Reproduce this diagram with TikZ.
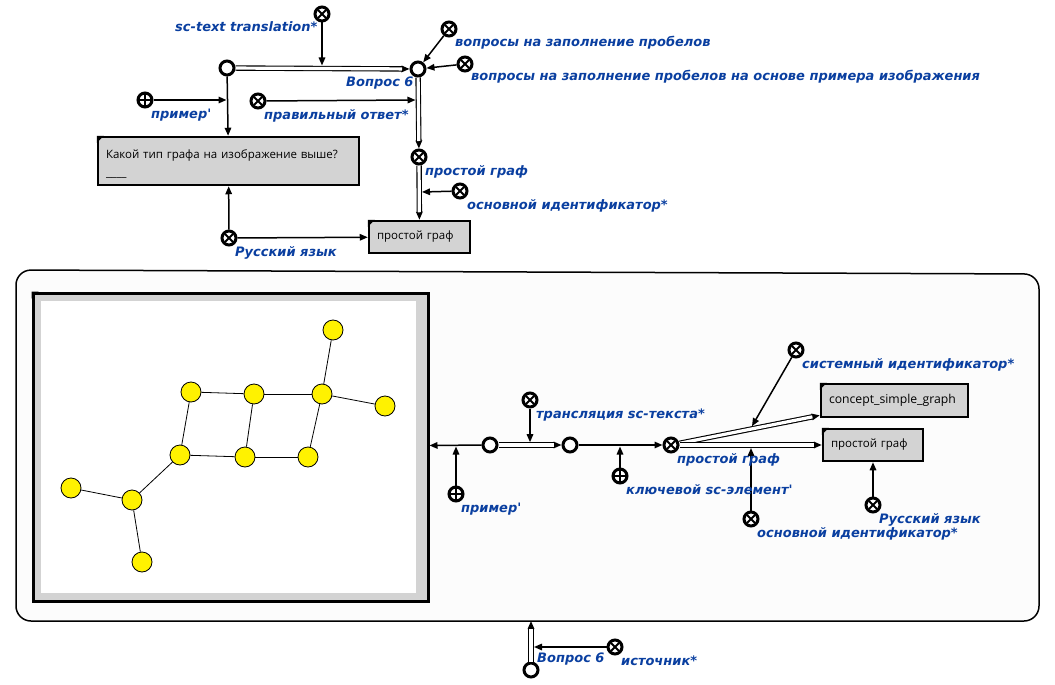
\documentclass[tikz,border=0pt]{standalone}
\usepackage{fontspec}
\setmainfont{DejaVu Sans}
\newfontfamily\lblfont{DejaVu Sans}
\newfontfamily\boxfont{Open Sans}
\usetikzlibrary{arrows.meta}
\definecolor{lblue}{HTML}{0A3FA0}
\definecolor{boxgray}{HTML}{D3D3D3}
\definecolor{framebg}{HTML}{FCFCFC}
\newcommand\dblarc[2]{\draw[arcline] (#1) -- (#2); \draw[dblline] (#1) -- (#2);}
\newcommand\boxcorner[1]{\fill (#1.north west) -- ++(7,0) -- ++(-7,7) -- cycle;}
\begin{document}
\begin{tikzpicture}[x=1pt,y=-1pt,
 opennode/.style={circle,draw,line width=3pt,fill=white,minimum size=14pt,inner sep=0pt},
 crossnode/.style={opennode, path picture={\draw[line width=1.8pt,shift={(path picture bounding box.center)}] (-4,-4)--(4,4) (-4,4)--(4,-4);}},
 plusnode/.style={opennode, path picture={\draw[line width=1.8pt,shift={(path picture bounding box.center)}] (-6,0)--(6,0) (0,-6)--(0,6);}},
 arcline/.style={line width=1.5pt,-{Triangle[length=8pt,width=6.5pt]}},
 dblline/.style={line width=1.1pt,double=white,double distance=3.2pt,shorten >=7.5pt},
 lbl/.style={font=\lblfont\fontsize{13}{15}\selectfont\bfseries\itshape, text=lblue, anchor=base west, inner sep=0pt},
 scbox/.style={draw,line width=2.5pt,fill=boxgray,inner xsep=8pt,font=\boxfont\fontsize{11.5}{18}\selectfont,minimum height=32pt,align=left},
 gv/.style={circle,draw,fill=yellow,line width=0.8pt,minimum size=20pt,inner sep=0pt},
 ge/.style={line width=0.8pt}]
\useasboundingbox (0,0) rectangle (1055,685);

% ---------- big frame ----------
\draw[line width=1.5pt, fill=framebg, rounded corners=15pt] (16,270) -- (1039,274) -- (1039,621) -- (16,621) -- cycle;
\coordinate (fr) at (531,621);

% ---------- top part ----------
\node[opennode] (qA) at (227,68) {};
\node[crossnode] (nSct) at (322,14) {};
\node[opennode] (q6) at (418,69) {};
\node[crossnode] (nVzp) at (449,29) {};
\node[crossnode] (nVzpi) at (465,64) {};
\node[plusnode] (nPr1) at (145,100) {};
\node[crossnode] (nPo) at (258,101) {};
\node[crossnode] (nPg) at (419,157) {};
\node[crossnode] (nOi1) at (460,191) {};
\node[crossnode] (nRu1) at (229,238) {};
\node[scbox, minimum width=261pt, minimum height=48pt, text width=245pt] (boxQ) at (228.5,161)
  {\rule{0pt}{14pt}Какой тип графа на изображение выше?\\\_\_\_\_};
\node[scbox, minimum width=101pt, text width=85pt] (boxPg1) at (419.5,237) {простой граф};
\boxcorner{boxQ}
\boxcorner{boxPg1}

\coordinate (c1) at (322,65.5);
\coordinate (c2) at (226.5,100);
\coordinate (c3) at (415.5,100);
\coordinate (c4) at (422,192);

\dblarc{qA}{q6}
\draw[arcline] (nSct) -- (c1);
\draw[arcline] (nVzp) -- (q6);
\draw[arcline] (nVzpi) -- (q6);
\draw[arcline] (qA) -- (boxQ);
\draw[arcline] (nPr1) -- (c2);
\dblarc{q6}{nPg}
\draw[arcline] (nPo) -- (c3);
\dblarc{nPg}{boxPg1}
\draw[arcline] (nOi1) -- (c4);
\draw[arcline] (nRu1) -- (boxQ);
\draw[arcline] (nRu1) -- (boxPg1);

\node[lbl] (lSct) at (175,32) {sc-text translation*};
\node[lbl] (lq6) at (346,87) {Вопрос 6};
\node[lbl] (lVzp) at (455,47) {вопросы на заполнение пробелов};
\node[lbl] (lVzpi) at (471,81) {вопросы на заполнение пробелов на основе примера изображения};
\node[lbl] (lPr1) at (151,118) {пример'};
\node[lbl] (lPo) at (264,119) {правильный ответ*};
\node[lbl] (lPg) at (425,175) {простой граф};
\node[lbl] (lOi1) at (467,209) {основной идентификатор*};
\node[lbl] (lRu1) at (235,256) {Русский язык};

% ---------- image ----------
\node[draw,line width=3pt,fill=boxgray,minimum width=395pt,minimum height=308pt,inner sep=0pt] (img) at (230.5,447) {};
\fill[white] (41,301) rectangle (416,593);
\boxcorner{img}
\node[gv] (g1) at (333,330) {};
\node[gv] (g2) at (191,392) {};
\node[gv] (g3) at (254,394) {};
\node[gv] (g4) at (322,394) {};
\node[gv] (g5) at (385,406) {};
\node[gv] (g6) at (180,455) {};
\node[gv] (g7) at (245,457) {};
\node[gv] (g8) at (308,457) {};
\node[gv] (g9) at (71,488) {};
\node[gv] (g10) at (132,500) {};
\node[gv] (g11) at (142,562) {};
\foreach \a/\b in {g1/g4,g2/g3,g3/g4,g4/g5,g2/g6,g3/g7,g4/g8,g6/g7,g7/g8,g6/g10,g9/g10,g10/g11}
  \draw[ge] (\a) -- (\b);

% ---------- bottom part ----------
\node[opennode] (qB) at (490,445) {};
\node[opennode] (qC) at (570,445) {};
\node[crossnode] (nPg2) at (671,445) {};
\node[plusnode] (nPr2) at (456,494) {};
\node[crossnode] (nTr) at (530,400) {};
\node[plusnode] (nKl) at (620,476) {};
\node[crossnode] (nSi) at (796,350) {};
\node[crossnode] (nOi2) at (751,519) {};
\node[scbox, minimum width=147pt, minimum height=33pt, text width=131pt, font=\boxfont\fontsize{12.2}{15}\selectfont] (boxCsg) at (894.5,400.5) {concept\_simple\_graph};
\node[scbox, minimum width=100pt, text width=84pt] (boxPg2) at (873,445) {простой граф};
\boxcorner{boxCsg}
\boxcorner{boxPg2}
\node[crossnode] (nRu2) at (873,505) {};
\node[opennode] (q6b) at (531,670) {};
\node[crossnode] (nIst) at (615,647) {};

\coordinate (c5) at (456,446.5);
\coordinate (c6) at (530,442.2);
\coordinate (c7) at (620,446.5);
\coordinate (c8) at (752,426.2);
\coordinate (c9) at (751,448);
\coordinate (c10) at (534,647);

\draw[arcline] (qB) -- (img);
\draw[arcline] (nPr2) -- (c5);
\dblarc{qB}{qC}
\draw[arcline] (nTr) -- (c6);
\draw[arcline] (qC) -- (nPg2);
\draw[arcline] (nKl) -- (c7);
\dblarc{nPg2}{boxCsg}
\dblarc{nPg2}{boxPg2}
\draw[arcline] (nSi) -- (c8);
\draw[arcline] (nOi2) -- (c9);
\draw[arcline] (nRu2) -- (boxPg2);
\dblarc{q6b}{fr}
\draw[arcline] (nIst) -- (c10);

\node[lbl] (lTr) at (536,418) {трансляция sc-текста*};
\node[lbl] (lPr2) at (461,512) {пример'};
\node[lbl] (lKl) at (626,494) {ключевой sc-элемент'};
\node[lbl] (lPg2) at (677,463) {простой граф};
\node[lbl] (lSi) at (802,368) {системный идентификатор*};
\node[lbl] (lOi2) at (757,537) {основной идентификатор*};
\node[lbl] (lRu2) at (879,523) {Русский язык};
\node[lbl] (lq6b) at (537,662) {Вопрос 6};
\node[lbl] (lIst) at (621,665) {источник*};
\end{tikzpicture}
\end{document}
